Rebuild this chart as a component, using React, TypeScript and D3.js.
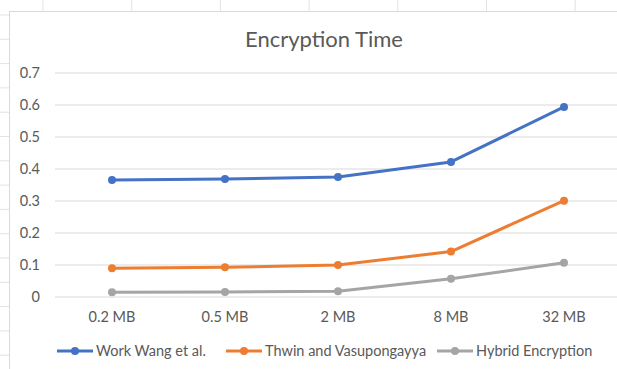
import React from "react";
import * as d3 from "d3";

const categories = ["0.2 MB", "0.5 MB", "2 MB", "8 MB", "32 MB"];
const wangValues = [0.366, 0.369, 0.375, 0.422, 0.594];
const thwinValues = [0.09, 0.093, 0.1, 0.142, 0.301];
const hybridValues = [0.015, 0.016, 0.018, 0.057, 0.107];
const yTicks = [0, 0.1, 0.2, 0.3, 0.4, 0.5, 0.6, 0.7];
const seriesNames = ["Work Wang et al.", "Thwin and Vasupongayya", "Hybrid Encryption"];
const seriesColors = ["#4472C4", "#ED7D31", "#A5A5A5"];

const W = 617;
const H = 369;
const FONT = "Lato, 'Open Sans', sans-serif";

export default function App() {
  const x = d3.scalePoint<string>().domain(categories).range([112, 564]);
  const y = d3.scaleLinear().domain([0, 0.7]).range([297, 73]);
  const line = d3
    .line<number>()
    .x((_, i) => x(categories[i]) as number)
    .y((d) => y(d));
  const allSeries = [wangValues, thwinValues, hybridValues];
  const cellCols = d3.range(7).map((i) => 43 + i * 88.7);
  const cellRows = d3.range(15).map((i) => 15 + i * 24.3);
  const legendX = [57, 226, 437];

  return (
    <svg
      width={W}
      height={H}
      style={{ position: "absolute", left: 0, top: 0, background: "#fff" }}
      fontFamily={FONT}
    >
      {cellCols.map((cx, i) => (
        <line key={"cc" + i} x1={cx} x2={cx} y1={0} y2={11} stroke="#e3e3e3" />
      ))}
      {cellRows.map((ry, i) => (
        <line key={"cr" + i} x1={0} x2={9} y1={ry} y2={ry} stroke="#e3e3e3" />
      ))}
      <rect x={9.5} y={11.5} width={W + 20} height={H + 20} fill="#fff" stroke="#d9d9d9" />
      <text x={324} y={47} textAnchor="middle" fontSize={22} fill="#595959">
        Encryption Time
      </text>
      {yTicks.map((t) => (
        <line key={"g" + t} x1={55} x2={W} y1={y(t)} y2={y(t)} stroke="#d9d9d9" />
      ))}
      {yTicks.map((t) => (
        <text
          key={"yl" + t}
          x={40}
          y={y(t)}
          dy="0.35em"
          textAnchor="end"
          fontSize={14.5}
          fill="#595959"
        >
          {d3.format(".1~f")(t)}
        </text>
      ))}
      {categories.map((c) => (
        <text key={"xl" + c} x={x(c)} y={322} textAnchor="middle" fontSize={14.5} fill="#595959">
          {c}
        </text>
      ))}
      {allSeries.map((s, si) => (
        <g key={"s" + si}>
          <path d={line(s) || ""} fill="none" stroke={seriesColors[si]} strokeWidth={3} strokeLinejoin="round" strokeLinecap="round" />
          {s.map((v, i) => (
            <circle key={i} cx={x(categories[i])} cy={y(v)} r={4} fill={seriesColors[si]} />
          ))}
        </g>
      ))}
      {seriesNames.map((n, i) => (
        <g key={"lg" + i} transform={`translate(${legendX[i]},351)`}>
          <line x1={0} x2={36} y1={0} y2={0} stroke={seriesColors[i]} strokeWidth={3} />
          <circle cx={18} cy={0} r={4} fill={seriesColors[i]} />
          <text x={39} y={0} dy="0.35em" fontSize={14.5} fill="#595959">
            {n}
          </text>
        </g>
      ))}
    </svg>
  );
}
